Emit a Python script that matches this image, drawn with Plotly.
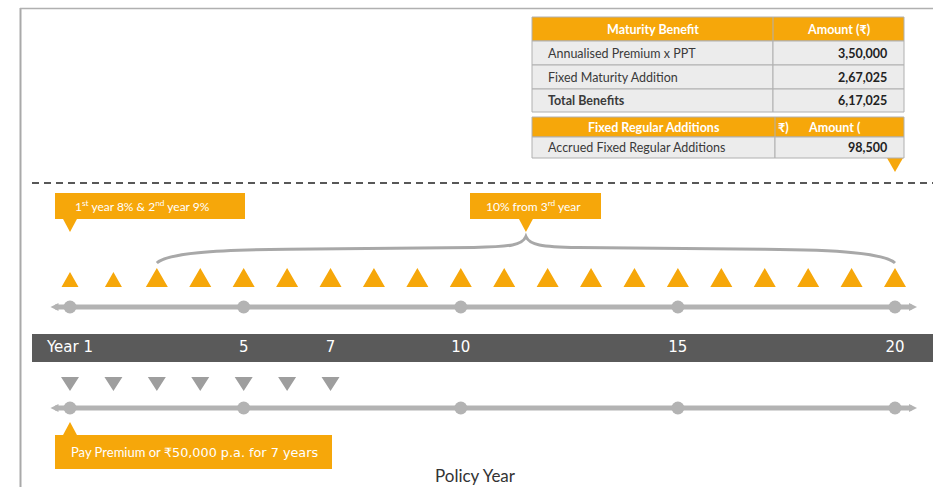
import plotly.graph_objects as go

# ---------------- data ----------------
years = list(range(1, 21))
fra_first_years = [1, 2]              # 1st year 8% & 2nd year 9%
fra_later_years = list(range(3, 21))  # 10% from 3rd year
premium_years = list(range(1, 8))     # premium paid for 7 years
milestone_years = [1, 5, 10, 15, 20]
tick_years = [1, 5, 7, 10, 15, 20]
tick_labels = ["Year 1", "5", "7", "10", "15", "20"]

maturity_header = ["Maturity Benefit", "Amount (₹)"]
maturity_items = ["Annualised Premium x PPT", "Fixed Maturity Addition", "Total Benefits"]
maturity_amounts = ["3,50,000", "2,67,025", "6,17,025"]
fra_header = ["Fixed Regular Additions", "Amount ("]
fra_items = ["Accrued Fixed Regular Additions"]
fra_amounts = ["98,500"]

callout_1 = "1<sup>st</sup> year 8% & 2<sup>nd</sup> year 9%"
callout_2 = "10% from 3<sup>rd</sup> year"
callout_3 = ("<span style='font-family:Lato'>Pay Premium or </span>"
             "<span style='font-family:DejaVu Sans;font-size:12.8px'>₹50,000 p.a. for 7 years</span>")

# ---------------- style ----------------
W, H = 933, 487
ORANGE = "#F6A70A"
GREY_LINE = "#b3b3b3"
GREY_TRI = "#9e9e9e"
DARK_BAR = "#5a5a5a"
CELL_FILL = "#ececec"
CELL_LINE = "#b0b0b0"
PXY = 825 / 19.0  # pixels per policy year


def px(x):
    """pixel column -> policy-year axis value"""
    return 1 + (x - 70) / PXY


def tri_polys(xs, half_w_px, y_base, height, up=True):
    X, Y = [], []
    hw = half_w_px / PXY
    tip = y_base - height if up else y_base + height
    for v in xs:
        X += [v - hw, v + hw, v, v - hw, None]
        Y += [y_base, y_base, tip, y_base, None]
    return X, Y


fig = go.Figure()

# orange FRA triangles
for ys, hw, h in [(fra_first_years, 8.5, 15), (fra_later_years, 11, 19)]:
    X, Y = tri_polys(ys, hw, 287, h, up=True)
    fig.add_trace(go.Scatter(x=X, y=Y, mode="lines", fill="toself", fillcolor=ORANGE,
                             line=dict(width=0, color=ORANGE), hoverinfo="skip"))

# grey premium triangles
X, Y = tri_polys(premium_years, 9, 377, 14, up=False)
fig.add_trace(go.Scatter(x=X, y=Y, mode="lines", fill="toself", fillcolor=GREY_TRI,
                         line=dict(width=0, color=GREY_TRI), hoverinfo="skip"))

# timelines
for yline in (307, 408):
    fig.add_trace(go.Scatter(x=[px(55), px(912)], y=[yline, yline], mode="lines",
                             line=dict(color=GREY_LINE, width=5), hoverinfo="skip"))
    fig.add_trace(go.Scatter(x=[px(50.5)], y=[yline], mode="markers",
                             marker=dict(symbol="arrow-left", size=8, color=GREY_LINE,
                                         line=dict(width=0)), hoverinfo="skip"))
    fig.add_trace(go.Scatter(x=[px(917)], y=[yline], mode="markers",
                             marker=dict(symbol="arrow-right", size=8, color=GREY_LINE,
                                         line=dict(width=0)), hoverinfo="skip"))
    fig.add_trace(go.Scatter(x=milestone_years, y=[yline] * len(milestone_years), mode="markers",
                             marker=dict(size=13, color=GREY_LINE, line=dict(width=0)),
                             hoverinfo="skip"))

# tick labels on dark bar
fig.add_trace(go.Scatter(x=tick_years, y=[348.5] * len(tick_years), mode="text",
                         text=tick_labels, textposition="middle center",
                         textfont=dict(family="DejaVu Sans", size=15, color="white"),
                         hoverinfo="skip"))

# pointer below 2nd table at year 20
X, Y = tri_polys([years[-1]], 8, 158, 14, up=False)
fig.add_trace(go.Scatter(x=X, y=Y, mode="lines", fill="toself", fillcolor=ORANGE,
                         line=dict(width=0, color=ORANGE), hoverinfo="skip"))

# callout pointers
X1, Y1 = tri_polys([years[0]], 7.5, 218, 14, up=False)
xm = (fra_later_years[0] + fra_later_years[-1]) / 2
X2, Y2 = tri_polys([xm], 7.5, 218, 14, up=False)
X3, Y3 = tri_polys([premium_years[0]], 7.5, 436, 14, up=True)
for X, Y in [(X1, Y1), (X2, Y2), (X3, Y3)]:
    fig.add_trace(go.Scatter(x=X, y=Y, mode="lines", fill="toself", fillcolor=ORANGE,
                             line=dict(width=0, color=ORANGE), hoverinfo="skip"))

shapes = [
    # frame
    dict(type="line", xref="paper", yref="y", x0=20.5 / W, x1=20.5 / W, y0=8, y1=H,
         line=dict(color="#a9a9a9", width=2)),
    dict(type="line", xref="paper", yref="y", x0=20 / W, x1=1, y0=8.5, y1=8.5,
         line=dict(color="#b0b0b0", width=1.5)),
    # dashed separator
    dict(type="line", xref="paper", yref="y", x0=32 / W, x1=1, y0=183, y1=183,
         line=dict(color="#222222", width=1.5, dash="7px,5px")),
    # dark year bar
    dict(type="rect", xref="paper", yref="y", x0=32 / W, x1=1, y0=334, y1=362,
         fillcolor=DARK_BAR, line=dict(width=0), layer="below"),
    # callout boxes
    dict(type="rect", xref="x", yref="y", x0=px(55), x1=px(245), y0=193, y1=219,
         fillcolor=ORANGE, line=dict(width=0), layer="below"),
    dict(type="rect", xref="x", yref="y", x0=px(470), x1=px(601), y0=193, y1=219,
         fillcolor=ORANGE, line=dict(width=0), layer="below"),
    dict(type="rect", xref="x", yref="y", x0=px(55), x1=px(332), y0=435, y1=469,
         fillcolor=ORANGE, line=dict(width=0), layer="below"),
]

# brace over years 3..20
xa, xb = fra_later_years[0], fra_later_years[-1]
brace = (f"M {xa},263 C {xa+0.25},253 {xa+1.3},250 {xa+3},249.3 "
         f"L {xm-1.2},247.5 C {xm-0.35},246.8 {xm-0.08},245 {xm},236.5 "
         f"C {xm+0.08},245 {xm+0.35},246.8 {xm+1.2},247.5 "
         f"L {xb-3},249.3 C {xb-1.3},250 {xb-0.25},253 {xb},263")
shapes.append(dict(type="path", xref="x", yref="y", path=brace,
                   line=dict(color="#a8a8a8", width=3)))

annotations = [
    dict(x=px(73), y=206, xref="x", yref="y", text=callout_1, showarrow=False,
         xanchor="left", yanchor="middle",
         font=dict(family="Lato", size=12, color="white")),
    dict(x=px(484), y=206, xref="x", yref="y", text=callout_2, showarrow=False,
         xanchor="left", yanchor="middle",
         font=dict(family="Lato", size=12, color="white")),
    dict(x=px(69), y=452, xref="x", yref="y", text=callout_3, showarrow=False,
         xanchor="left", yanchor="middle",
         font=dict(family="Lato", size=13, color="white")),
    dict(x=px(475), y=475, xref="x", yref="y", text="Policy Year", showarrow=False,
         xanchor="center", yanchor="middle",
         font=dict(family="Lato", size=17, color="#333333")),
]


# ---------------- tables (drawn from the lists above) ----------------
def draw_table(xl, xs, xr, row_edges, header, items, amounts, bold_rows=(), split_header=False):
    # header
    shapes.append(dict(type="rect", xref="paper", yref="y", x0=xl / W, x1=xr / W,
                       y0=row_edges[0], y1=row_edges[1], fillcolor=ORANGE,
                       line=dict(color=CELL_LINE, width=1)))
    shapes.append(dict(type="line", xref="paper", yref="y", x0=xs / W, x1=xs / W,
                       y0=row_edges[0], y1=row_edges[1], line=dict(color=CELL_LINE, width=1)))
    yh = (row_edges[0] + row_edges[1]) / 2
    hfont = dict(family="Lato", size=12.5, color="white")
    annotations.append(dict(x=(xl + xs) / 2 / W, y=yh, xref="paper", yref="y",
                            text="<b>" + header[0] + "</b>", showarrow=False,
                            xanchor="center", yanchor="middle", font=hfont))
    if split_header:
        annotations.append(dict(x=(xs + 1) / W, y=yh, xref="paper", yref="y",
                                text="<b>₹)</b>", showarrow=False,
                                xanchor="left", yanchor="middle", font=hfont))
        annotations.append(dict(x=(xs + 31) / W, y=yh, xref="paper", yref="y",
                                text="<b>" + header[1] + "</b>", showarrow=False,
                                xanchor="left", yanchor="middle", font=hfont))
    else:
        annotations.append(dict(x=(xs + xr) / 2 / W, y=yh, xref="paper", yref="y",
                                text="<b>" + header[1] + "</b>", showarrow=False,
                                xanchor="center", yanchor="middle", font=hfont))
    # body rows
    for i, (it, am) in enumerate(zip(items, amounts)):
        y0, y1 = row_edges[i + 1], row_edges[i + 2]
        for a, b in [(xl, xs), (xs, xr)]:
            shapes.append(dict(type="rect", xref="paper", yref="y", x0=a / W, x1=b / W,
                               y0=y0, y1=y1, fillcolor=CELL_FILL,
                               line=dict(color=CELL_LINE, width=1)))
        ym = (y0 + y1) / 2
        txt = "<b>" + it + "</b>" if i in bold_rows else it
        annotations.append(dict(x=(xl + 14) / W, y=ym, xref="paper", yref="y", text=txt,
                                showarrow=False, xanchor="left", yanchor="middle",
                                font=dict(family="Lato", size=12.5, color="#3a3a3a")))
        annotations.append(dict(x=(xr - 15) / W, y=ym, xref="paper", yref="y",
                                text="<b>" + am + "</b>", showarrow=False,
                                xanchor="right", yanchor="middle",
                                font=dict(family="Lato", size=12.5, color="#222222")))


draw_table(532, 773, 904, [17, 41, 65, 89, 112], maturity_header,
           maturity_items, maturity_amounts, bold_rows=(2,))
draw_table(532, 775, 904, [117, 137, 158], fra_header, fra_items, fra_amounts,
           split_header=True)

fig.update_layout(
    width=W, height=H,
    margin=dict(l=0, r=0, t=0, b=0),
    paper_bgcolor="white", plot_bgcolor="white",
    showlegend=False,
    xaxis=dict(range=[px(0), px(W)], visible=False, fixedrange=True),
    yaxis=dict(range=[H, 0], visible=False, fixedrange=True),
    shapes=shapes,
    annotations=annotations,
)

fig.write_html("out.html",
               config={"displayModeBar": False},
               post_script="document.body.style.margin='0';document.body.style.overflow='hidden';")
